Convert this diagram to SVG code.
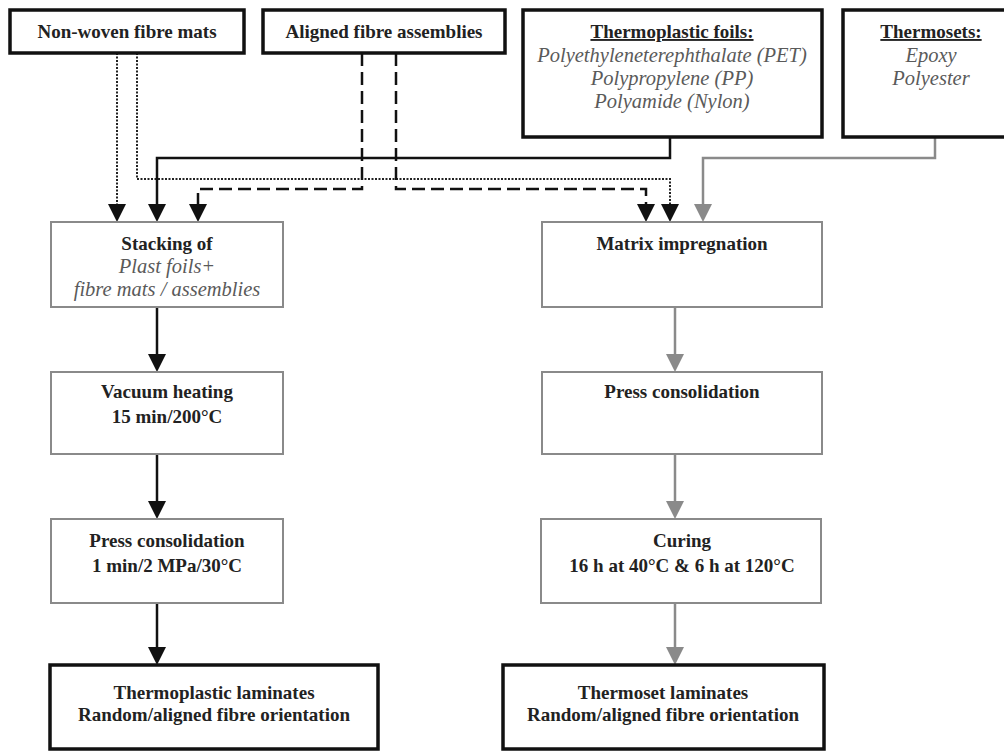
<svg xmlns="http://www.w3.org/2000/svg" width="1004" height="751" viewBox="0 0 1004 751">
<defs>
<style>
.top{fill:#fff;stroke:#111;stroke-width:3.5}
.proc{fill:#fff;stroke:#8a8a8a;stroke-width:2}
.fin{fill:#fff;stroke:#111;stroke-width:3.5}
text{font-family:"Liberation Serif","Times New Roman",serif;font-size:19px;text-anchor:middle}
.b{font-weight:bold;fill:#222}
.i{font-style:italic;fill:#5a5a5a;font-size:20.5px}
.u{text-decoration:underline}
.blk{fill:none;stroke:#111;stroke-width:2.5}
.gry{fill:none;stroke:#8a8a8a;stroke-width:2.5}
.dot{fill:none;stroke:#222;stroke-width:2;stroke-dasharray:2 1.5}
.dsh{fill:none;stroke:#111;stroke-width:2.5;stroke-dasharray:13 6}
.ah{fill:#111}
.ahg{fill:#8a8a8a}
</style>
</defs>
<g id="connectors">
<path class="dot" d="M117 53 V204"/>
<path class="dot" d="M137 53 V179 H670 V204"/>
<path class="dsh" d="M362 53 V189 H198 V204"/>
<path class="dsh" d="M396 53 V189 H646 V204"/>
<path class="blk" d="M670 137 V158 H157 V204"/>
<path class="gry" d="M935 137 V158 H703 V204"/>
<path class="blk" d="M157 307 V354"/>
<path class="blk" d="M157 454 V501"/>
<path class="blk" d="M157 603 V647"/>
<path class="gry" d="M675 307 V354"/>
<path class="gry" d="M675 454 V501"/>
<path class="gry" d="M675 603 V647"/>
<path class="ah" d="M108 204 H126 L117 222 Z"/>
<path class="ah" d="M148 204 H166 L157 222 Z"/>
<path class="ah" d="M189 204 H207 L198 222 Z"/>
<path class="ah" d="M637 204 H655 L646 222 Z"/>
<path class="ah" d="M661 204 H679 L670 222 Z"/>
<path class="ahg" d="M694 204 H712 L703 222 Z"/>
<path class="ah" d="M148 354 H166 L157 372 Z"/>
<path class="ah" d="M148 501 H166 L157 519 Z"/>
<path class="ah" d="M148 647 H166 L157 665 Z"/>
<path class="ahg" d="M666 354 H684 L675 372 Z"/>
<path class="ahg" d="M666 501 H684 L675 519 Z"/>
<path class="ahg" d="M666 647 H684 L675 665 Z"/>
</g>
<g id="nonwoven">
<rect class="top" x="10" y="10" width="234" height="43"/>
<text class="b" x="127" y="38">Non-woven fibre mats</text>
</g>
<g id="aligned">
<rect class="top" x="263" y="10" width="242" height="43"/>
<text class="b" x="384" y="38">Aligned fibre assemblies</text>
</g>
<g id="foils">
<rect class="top" x="523" y="10" width="299" height="127"/>
<text class="b u" x="672" y="38">Thermoplastic foils:</text>
<text class="i" x="672" y="62">Polyethyleneterephthalate (PET)</text>
<text class="i" x="672" y="85">Polypropylene (PP)</text>
<text class="i" x="672" y="108">Polyamide (Nylon)</text>
</g>
<g id="thermosets">
<rect class="top" x="843" y="10" width="170" height="127"/>
<text class="b u" x="931" y="38">Thermosets:</text>
<text class="i" x="931" y="62">Epoxy</text>
<text class="i" x="931" y="85">Polyester</text>
</g>
<g id="stacking">
<rect class="proc" x="51" y="222" width="232" height="85"/>
<text class="b" x="167" y="250">Stacking of</text>
<text class="i" x="167" y="273">Plast foils+</text>
<text class="i" x="167" y="296">fibre mats / assemblies</text>
</g>
<g id="vacuum">
<rect class="proc" x="51" y="372" width="232" height="82"/>
<text class="b" x="167" y="398">Vacuum heating</text>
<text class="b" x="167" y="423">15 min/200°C</text>
</g>
<g id="pressL">
<rect class="proc" x="51" y="519" width="232" height="84"/>
<text class="b" x="167" y="547">Press consolidation</text>
<text class="b" x="167" y="572">1 min/2 MPa/30°C</text>
</g>
<g id="tplam">
<rect class="fin" x="50" y="665" width="328" height="84"/>
<text class="b" x="214" y="699">Thermoplastic laminates</text>
<text class="b" x="214" y="721">Random/aligned fibre orientation</text>
</g>
<g id="matrix">
<rect class="proc" x="542" y="222" width="280" height="85"/>
<text class="b" x="682" y="250">Matrix impregnation</text>
</g>
<g id="pressR">
<rect class="proc" x="542" y="372" width="280" height="82"/>
<text class="b" x="682" y="398">Press consolidation</text>
</g>
<g id="curing">
<rect class="proc" x="541" y="519" width="280" height="84"/>
<text class="b" x="682" y="547">Curing</text>
<text class="b" x="682" y="572">16 h at 40°C &amp; 6 h at 120°C</text>
</g>
<g id="tslam">
<rect class="fin" x="503" y="665" width="321" height="84"/>
<text class="b" x="663" y="699">Thermoset laminates</text>
<text class="b" x="663" y="721">Random/aligned fibre orientation</text>
</g>
</svg>
